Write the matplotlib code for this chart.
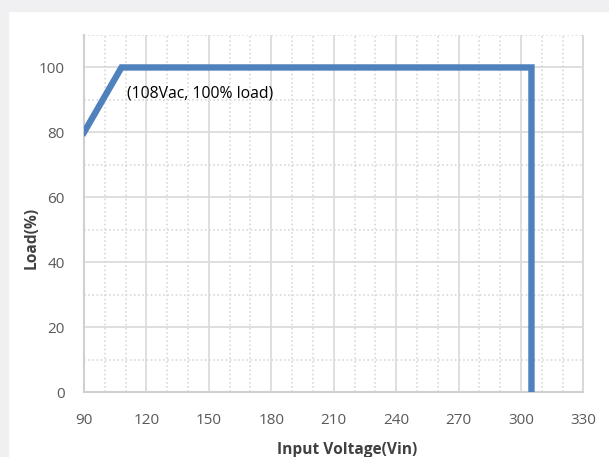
from matplotlib import pyplot as plt
from matplotlib.patches import Rectangle

# derating curve
vin = [90, 108, 305, 305]
load = [80, 100, 100, 0]
x_ticks = [90, 120, 150, 180, 210, 240, 270, 300, 330]
y_ticks = [0, 20, 40, 60, 80, 100]
note = '(108Vac, 100% load)'

plt.rcParams['font.family'] = ['Open Sans', 'DejaVu Sans']

fig = plt.figure(figsize=(6.09, 4.57), dpi=100)
# grey window edges at top and left
fig.patches.append(Rectangle((0, 1 - 11 / 457), 1, 11 / 457, transform=fig.transFigure,
                             color='#f0f0f2', zorder=0))
fig.patches.append(Rectangle((0, 0), 8 / 609, 1, transform=fig.transFigure,
                             color='#f0f0f2', zorder=0))

ax = fig.add_axes([84 / 609, 65 / 457, 499.5 / 609, 357 / 457])
ax.set_xlim(90, 330)
ax.set_ylim(0, 110)

ax.set_xticks(x_ticks)
ax.set_xticks([v for v in range(100, 331, 10) if v not in x_ticks], minor=True)
ax.set_yticks(y_ticks)
ax.set_yticks(list(range(10, 111, 20)), minor=True)

ax.grid(which='major', color='#d9d9d9', lw=1.2, ls='-')
ax.grid(which='minor', color='#d9d9d9', lw=1.2, ls=(0, (1, 1.5)))
ax.axvline(330, color='#d9d9d9', lw=1.5, zorder=1)
for s in ['top', 'right']:
    ax.spines[s].set_visible(False)
for s in ['left', 'bottom']:
    ax.spines[s].set_color('#d0d0d0')
    ax.spines[s].set_linewidth(1.5)

ax.tick_params(which='both', length=0, colors='#595959', labelsize=11)
ax.tick_params(axis='y', pad=14)
ax.tick_params(axis='x', pad=15)

ax.plot(vin, load, color='#4f81bd', lw=4.6, solid_joinstyle='miter', zorder=3)
ax.text(110.8, 92, note, fontsize=11.3, color='black', ha='left', va='center', zorder=4)

ax.set_xlabel('Input Voltage(Vin)', fontsize=11.2, fontweight='bold', color='#404040')
ax.set_ylabel('Load(%)', fontsize=11.2, fontweight='bold', color='#404040')
ax.xaxis.set_label_coords(0.527, -0.141)
ax.yaxis.set_label_coords(-0.088, 0.431)

fig.savefig('out.png', dpi=100)
